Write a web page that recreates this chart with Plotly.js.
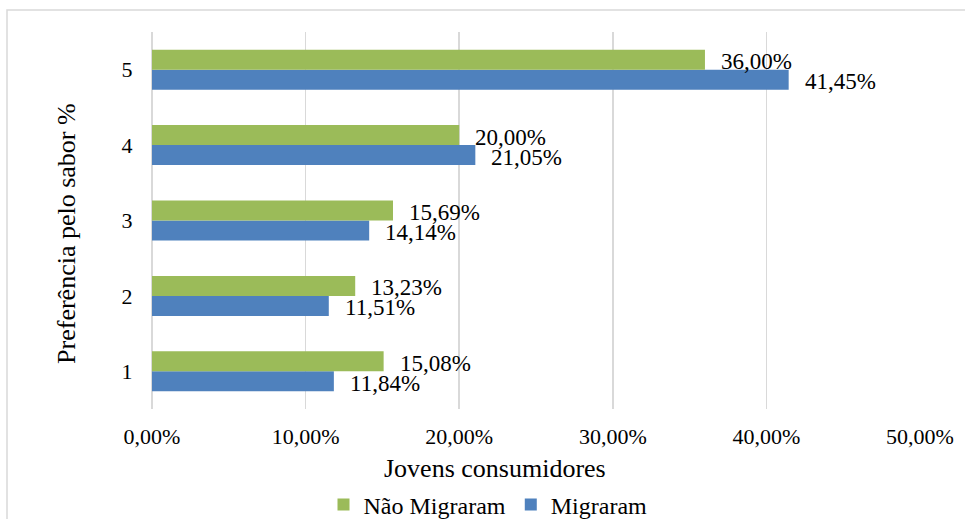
<!DOCTYPE html>
<html>
<head>
<meta charset="utf-8">
<script src="https://cdn.plot.ly/plotly-3.0.1.min.js"></script>
<style>
html,body{margin:0;padding:0;background:#fff;}
#chart{width:965px;height:519px;}
</style>
</head>
<body>
<div id="chart"></div>
<script>
var categories = ['1', '2', '3', '4', '5'];
var naoMigraram = [15.08, 13.23, 15.69, 20.00, 36.00];
var migraram = [11.84, 11.51, 14.14, 21.05, 41.45];
var xTickVals = [0, 10, 20, 30, 40, 50];
var xTickLabels = ['0,00%', '10,00%', '20,00%', '30,00%', '40,00%', '50,00%'];

var FONT = 'Liberation Serif';
var GREEN = '#9BBB59';
var BLUE = '#4F81BD';

function fmt(v) { return v.toFixed(2).replace('.', ',') + '%'; }

var traces = [
  { type: 'bar', orientation: 'h', name: 'Migraram', x: migraram, y: categories,
    marker: { color: BLUE }, hoverinfo: 'none' },
  { type: 'bar', orientation: 'h', name: 'Não Migraram', x: naoMigraram, y: categories,
    marker: { color: GREEN }, hoverinfo: 'none' }
];

var annotations = [];
categories.forEach(function (c, i) {
  annotations.push({ x: naoMigraram[i], y: i, xref: 'x', yref: 'y', text: fmt(naoMigraram[i]),
    showarrow: false, xanchor: 'left', yanchor: 'middle', xshift: 14, yshift: 8,
    font: { family: FONT, size: 23, color: '#000' } });
  annotations.push({ x: migraram[i], y: i, xref: 'x', yref: 'y', text: fmt(migraram[i]),
    showarrow: false, xanchor: 'left', yanchor: 'middle', xshift: 14, yshift: -12,
    font: { family: FONT, size: 23, color: '#000' } });
});
annotations.push({ xref: 'paper', yref: 'paper', x: 0.4466, y: -0.158, xanchor: 'center', yanchor: 'middle',
  text: 'Jovens consumidores', showarrow: false, font: { family: FONT, size: 26, color: '#000' } });
annotations.push({ xref: 'paper', yref: 'paper', x: -0.1107, y: 0.467, xanchor: 'center', yanchor: 'middle',
  textangle: -90, text: 'Preferência pelo sabor %', showarrow: false, font: { family: FONT, size: 26, color: '#000' } });

var layout = {
  width: 965, height: 519,
  margin: { l: 152, r: 45, t: 32, b: 110, autoexpand: false },
  paper_bgcolor: '#fff', plot_bgcolor: '#fff',
  barmode: 'group', bargap: 0.47, bargroupgap: 0,
  font: { family: FONT, size: 22, color: '#000' },
  xaxis: {
    range: [0, 50], tickvals: xTickVals, ticktext: xTickLabels,
    showgrid: true, gridcolor: '#D9D9D9', gridwidth: 1.5,
    zeroline: true, zerolinecolor: '#D9D9D9', zerolinewidth: 1.5,
    showline: false, ticks: 'outside', ticklen: 8, tickcolor: 'rgba(0,0,0,0)',
    tickfont: { family: FONT, size: 22, color: '#000' }, fixedrange: true
  },
  yaxis: {
    type: 'category', categoryorder: 'array', categoryarray: categories, range: [-0.5, 4.5],
    showgrid: false, zeroline: false, showline: false,
    ticks: 'outside', ticklen: 14, tickcolor: 'rgba(0,0,0,0)',
    tickfont: { family: FONT, size: 22, color: '#000' }, fixedrange: true
  },
  showlegend: true,
  legend: {
    orientation: 'h', traceorder: 'reversed', xref: 'container', yref: 'container',
    x: 0.5057, xanchor: 'center', y: 0.027, yanchor: 'middle',
    font: { family: FONT, size: 24, color: '#000' }, itemwidth: 30, bgcolor: 'rgba(0,0,0,0)'
  },
  annotations: annotations,
  shapes: [{ type: 'rect', xref: 'paper', yref: 'paper', x0: -0.1888, x1: 1.2, y0: -0.7, y1: 1.0584,
    line: { color: '#D9D9D9', width: 1.5 }, fillcolor: 'rgba(0,0,0,0)', layer: 'below' }]
};

Plotly.newPlot('chart', traces, layout, { displayModeBar: false, staticPlot: true });
</script>
</body>
</html>
